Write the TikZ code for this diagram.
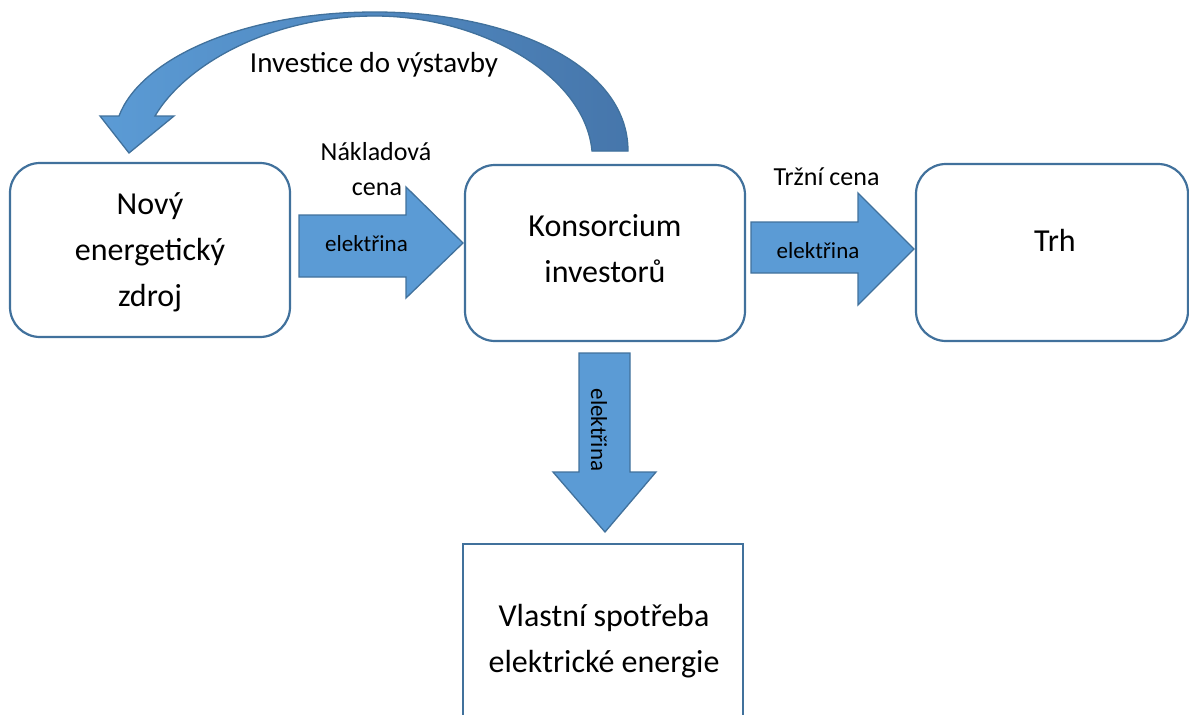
\documentclass[tikz,border=0pt]{standalone}
\usepackage{fontspec}
\setmainfont{Carlito}
\definecolor{boxline}{HTML}{41719C}
\definecolor{arrowfill}{HTML}{5B9BD5}
\definecolor{arrowdark}{HTML}{4676AB}
\begin{document}
\begin{tikzpicture}[x=1pt,y=-1pt,
  rbox/.style={draw=boxline, line width=2.2pt, rounded corners=30pt, fill=white, inner sep=0pt},
  sbox/.style={draw=boxline, line width=2.2pt, fill=white, inner sep=0pt},
  barrow/.style={draw=boxline, line width=1.3pt, fill=arrowfill, line join=miter},
  big/.style={font=\fontsize{32}{46}\selectfont, align=center, inner sep=0pt},
  mid/.style={font=\fontsize{26}{34}\selectfont, inner sep=0pt},
  small/.style={font=\fontsize{23}{28}\selectfont, inner sep=0pt}]
\useasboundingbox (0,0) rectangle (1189,715);

% boxes
\node[rbox, minimum width=280pt, minimum height=174pt] (A) at (150,250) {};
\node[rbox, minimum width=280pt, minimum height=176pt] (B) at (605,253) {};
\node[rbox, minimum width=272pt, minimum height=177pt] (C) at (1052,252.5) {};
\node[sbox, minimum width=280pt, minimum height=192pt] (D) at (603,640) {};

% box texts
\node[big] (tA) at (A.center) [yshift=-2pt] {Nový\\energetický\\zdroj};
\node[big] (tB) at (605,249) {Konsorcium\\investorů};
\node[big] (tC) at (1055,240) {Trh};
\node[big] (tD) at (604,641) {Vlastní spotřeba\\elektrické energie};

% straight block arrows
\draw[barrow] (299,215) -- (406,215) -- (406,187) -- (463,243) -- (406,298) -- (406,277) -- (299,277) -- cycle;
\draw[barrow] (751,222) -- (858,222) -- (858,193) -- (914,249) -- (858,305) -- (858,273) -- (751,273) -- cycle;
\draw[barrow] (579,353) -- (630,353) -- (630,472) -- (656,472) -- (605,532) -- (553,472) -- (579,472) -- cycle;

% curved block arrow
\draw[barrow, left color=arrowfill, right color=arrowdark]
  (628,151) .. controls (628,65) and (510,12) .. (375,12)
  .. controls (240,12) and (140,60) .. (119,116)
  -- (100,116) -- (129,153) -- (174,116) -- (155,116)
  .. controls (185,65) and (270,16) .. (375,16)
  .. controls (480,16) and (585,75) .. (592,151) -- cycle;

% labels
\node[mid, anchor=base, font=\fontsize{29}{34}\selectfont] (inv) at (374,72) {Investice do výstavby};
\node[mid, anchor=base] (nak1) at (376,160) {Nákladová};
\node[mid, anchor=base] (nak2) at (377,195) {cena};
\node[mid, anchor=base] (trz) at (826.5,185) {Tržní cena};
\node[small, anchor=base] (el1) at (366.5,251) {elektřina};
\node[small, anchor=base] (el2) at (818,258) {elektřina};
\node[small, rotate=-90] (el3) at (599,430) {elektřina};
\end{tikzpicture}
\end{document}
